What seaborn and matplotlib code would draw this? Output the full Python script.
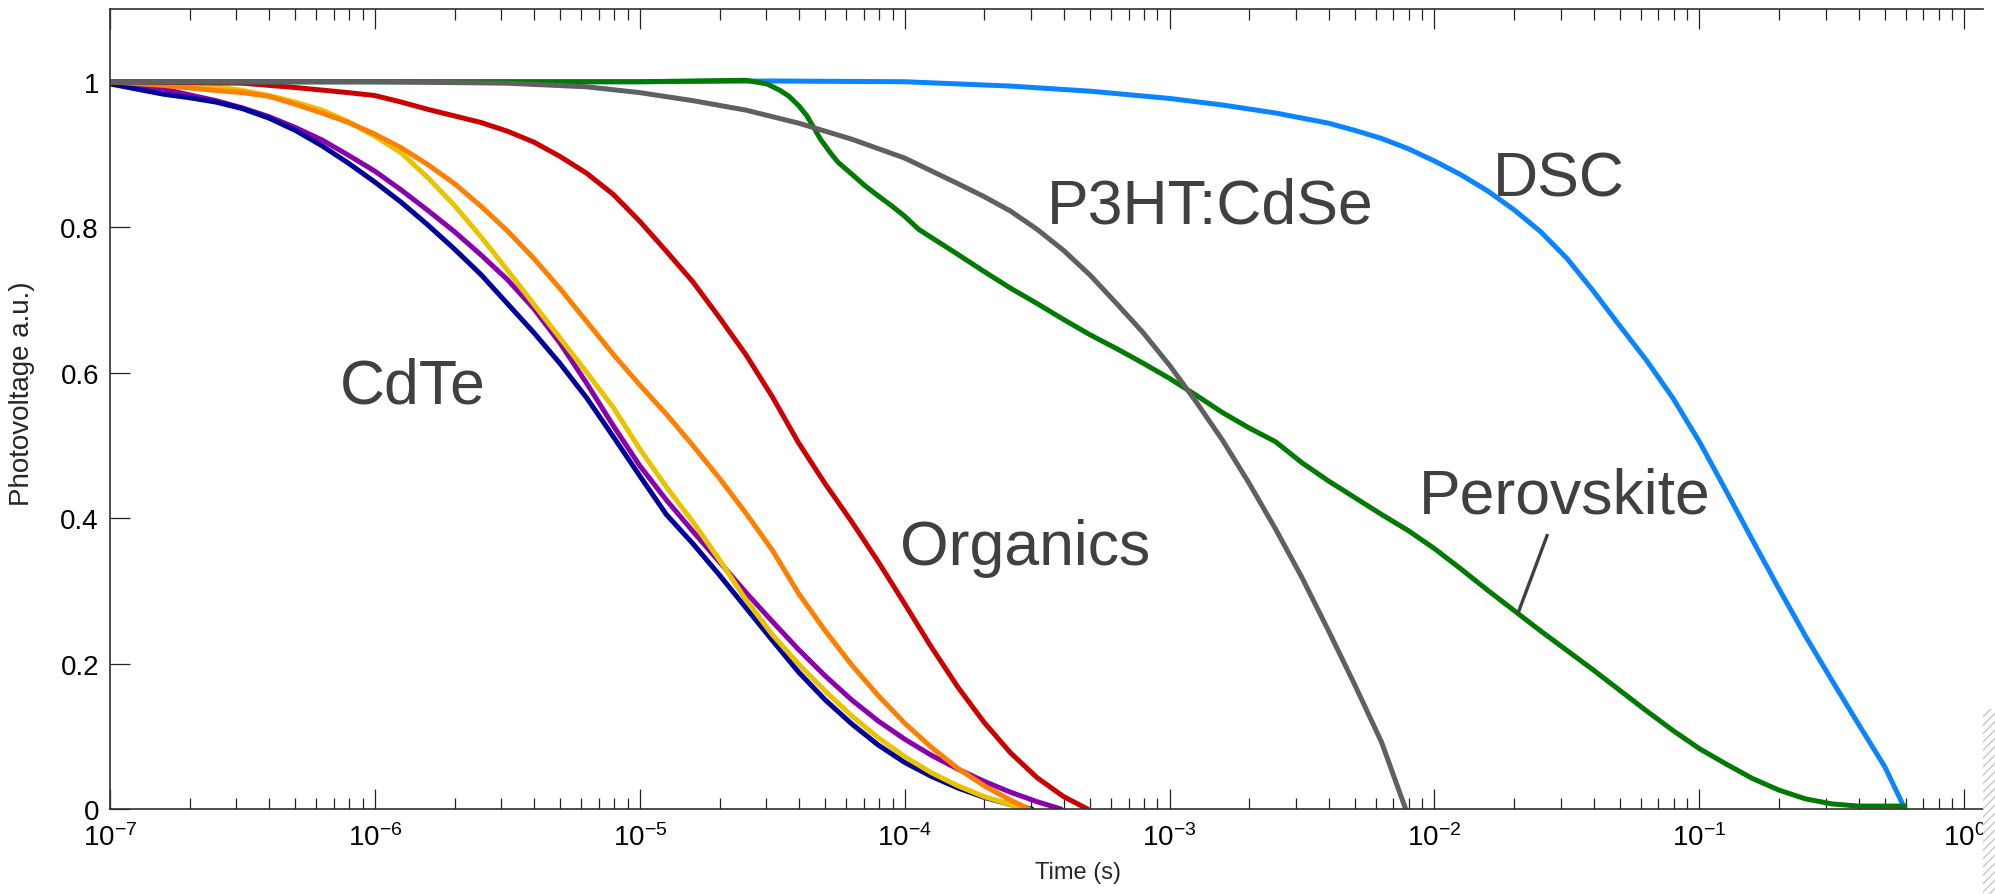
import numpy as np
import pandas as pd
import matplotlib
matplotlib.use("Agg")
import matplotlib.pyplot as plt
import matplotlib.ticker as mticker
from matplotlib.patches import Rectangle
import seaborn as sns

# ---- transient photovoltage decays: log10(time / s) and normalised voltage ----
navy_logt = [-7.0, -6.9, -6.8, -6.7, -6.6, -6.5, -6.4, -6.3, -6.2, -6.1, -6.0, -5.9, -5.8,
             -5.7, -5.6, -5.5, -5.4, -5.3, -5.2, -5.1, -5.0, -4.9, -4.8, -4.7, -4.6, -4.5,
             -4.4, -4.3, -4.2, -4.1, -4.0, -3.9, -3.8, -3.7, -3.6, -3.52]
navy_v = [0.997, 0.99, 0.983, 0.978, 0.972, 0.963, 0.950, 0.933, 0.912, 0.888, 0.862, 0.834,
          0.803, 0.770, 0.735, 0.695, 0.655, 0.612, 0.565, 0.512, 0.458, 0.405, 0.365, 0.322,
          0.277, 0.232, 0.188, 0.150, 0.117, 0.088, 0.064, 0.045, 0.029, 0.016, 0.006, 0.0]

purple_logt = [-7.0, -6.9, -6.8, -6.7, -6.6, -6.5, -6.4, -6.3, -6.2, -6.1, -6.0, -5.9, -5.8,
               -5.7, -5.6, -5.5, -5.4, -5.3, -5.2, -5.1, -5.0, -4.9, -4.8, -4.7, -4.6, -4.5,
               -4.4, -4.3, -4.2, -4.1, -4.0, -3.9, -3.8, -3.7, -3.6, -3.5, -3.41]
purple_v = [1.0, 0.995, 0.99, 0.982, 0.974, 0.964, 0.952, 0.937, 0.920, 0.899, 0.877, 0.851,
            0.823, 0.794, 0.762, 0.728, 0.688, 0.640, 0.585, 0.527, 0.472, 0.425, 0.382, 0.340,
            0.298, 0.258, 0.219, 0.183, 0.150, 0.121, 0.096, 0.074, 0.055, 0.038, 0.023, 0.010, 0.0]

yellow_logt = [-7.0, -6.8, -6.6, -6.5, -6.4, -6.3, -6.2, -6.1, -6.0, -5.9, -5.8, -5.7, -5.6,
               -5.5, -5.4, -5.3, -5.2, -5.1, -5.0, -4.9, -4.8, -4.7, -4.6, -4.5, -4.4, -4.3,
               -4.2, -4.1, -4.0, -3.9, -3.8, -3.7, -3.6, -3.55]
yellow_v = [1.0, 0.998, 0.993, 0.988, 0.981, 0.972, 0.961, 0.945, 0.925, 0.902, 0.868, 0.830,
            0.787, 0.741, 0.694, 0.647, 0.600, 0.552, 0.495, 0.443, 0.395, 0.343, 0.288, 0.240,
            0.199, 0.162, 0.128, 0.098, 0.072, 0.050, 0.032, 0.017, 0.006, 0.0]

orange_logt = [-7.0, -6.8, -6.6, -6.5, -6.4, -6.3, -6.2, -6.1, -6.0, -5.9, -5.8, -5.7, -5.6,
               -5.5, -5.4, -5.3, -5.2, -5.1, -5.0, -4.9, -4.8, -4.7, -4.6, -4.5, -4.4, -4.3,
               -4.2, -4.1, -4.0, -3.9, -3.8, -3.7, -3.6, -3.53]
orange_v = [1.0, 0.995, 0.988, 0.985, 0.980, 0.969, 0.957, 0.944, 0.928, 0.909, 0.886, 0.860,
            0.829, 0.795, 0.757, 0.715, 0.670, 0.625, 0.583, 0.543, 0.500, 0.455, 0.407, 0.356,
            0.296, 0.245, 0.198, 0.156, 0.118, 0.085, 0.056, 0.032, 0.012, 0.0]

red_logt = [-7.0, -6.5, -6.3, -6.1, -6.0, -5.9, -5.8, -5.7, -5.6, -5.5, -5.4, -5.3, -5.2,
            -5.1, -5.0, -4.9, -4.8, -4.7, -4.6, -4.5, -4.4, -4.3, -4.2, -4.1, -4.0, -3.9,
            -3.8, -3.7, -3.6, -3.5, -3.4, -3.31]
red_v = [1.0, 0.998, 0.992, 0.985, 0.981, 0.972, 0.962, 0.953, 0.944, 0.932, 0.917, 0.897,
         0.874, 0.845, 0.808, 0.767, 0.725, 0.676, 0.625, 0.567, 0.503, 0.447, 0.395, 0.340,
         0.282, 0.223, 0.168, 0.119, 0.077, 0.043, 0.017, 0.0]

gray_logt = [-7.0, -6.0, -5.5, -5.2, -5.0, -4.8, -4.6, -4.4, -4.2, -4.0, -3.8, -3.7, -3.6,
             -3.5, -3.4, -3.3, -3.2, -3.1, -3.0, -2.9, -2.8, -2.7, -2.6, -2.5, -2.4, -2.3,
             -2.2, -2.109]
gray_v = [1.0, 1.0, 0.998, 0.993, 0.985, 0.974, 0.961, 0.943, 0.921, 0.895, 0.860, 0.842,
          0.822, 0.797, 0.768, 0.734, 0.695, 0.655, 0.610, 0.560, 0.507, 0.448, 0.385, 0.318,
          0.245, 0.170, 0.092, 0.0]

green_logt = [-7.0, -5.0, -4.8, -4.6, -4.52, -4.47, -4.437, -4.40, -4.369, -4.318, -4.28,
              -4.251, -4.2, -4.15, -4.1, -4.048, -4.0, -3.947, -3.9, -3.814, -3.7, -3.6, -3.5,
              -3.4, -3.3, -3.2, -3.1, -3.0, -2.9, -2.8, -2.7, -2.6, -2.5, -2.4, -2.3, -2.2,
              -2.1, -2.0, -1.9, -1.8, -1.7, -1.6, -1.5, -1.4, -1.3, -1.2, -1.1, -1.0, -0.9,
              -0.8, -0.7, -0.6, -0.5, -0.4, -0.224]
green_v = [1.0, 1.0, 1.001, 1.002, 0.997, 0.988, 0.98, 0.967, 0.953, 0.921, 0.902,
           0.889, 0.873, 0.857, 0.843, 0.829, 0.815, 0.797, 0.786, 0.766, 0.739, 0.716, 0.695,
           0.673, 0.652, 0.633, 0.613, 0.592, 0.569, 0.545, 0.524, 0.505, 0.476, 0.451, 0.428,
           0.405, 0.383, 0.358, 0.330, 0.301, 0.273, 0.245, 0.218, 0.191, 0.163, 0.135, 0.108,
           0.083, 0.062, 0.042, 0.026, 0.014, 0.007, 0.004, 0.004]

blue_logt = [-7.0, -5.0, -4.5, -4.0, -3.6, -3.3, -3.0, -2.8, -2.6, -2.4, -2.3, -2.2, -2.1,
             -2.0, -1.9, -1.8, -1.7, -1.6, -1.5, -1.4, -1.3, -1.2, -1.1, -1.0, -0.9, -0.8,
             -0.7, -0.6, -0.5, -0.4, -0.3, -0.224]
blue_v = [1.0, 1.0, 1.001, 1.0, 0.994, 0.987, 0.977, 0.968, 0.957, 0.943, 0.933, 0.922, 0.908,
          0.891, 0.872, 0.850, 0.824, 0.794, 0.757, 0.712, 0.664, 0.617, 0.565, 0.505, 0.438,
          0.370, 0.303, 0.238, 0.177, 0.117, 0.058, 0.0]

series_colors = {
    "purple": "#8a00ad",
    "navy": "#00009a",
    "yellow": "#e8c400",
    "orange": "#ff8000",
    "red": "#cc0000",
    "blue": "#0a84ff",
    "green": "#007a00",
    "gray": "#606060",
}
draw_order = ["purple", "navy", "yellow", "orange", "red", "blue", "green", "gray"]

xtick_values = [1e-7, 1e-6, 1e-5, 1e-4, 1e-3, 1e-2, 1e-1, 1e0]
xtick_labels = [r"$\mathregular{10^{-7}}$", r"$\mathregular{10^{-6}}$", r"$\mathregular{10^{-5}}$",
                r"$\mathregular{10^{-4}}$", r"$\mathregular{10^{-3}}$", r"$\mathregular{10^{-2}}$",
                r"$\mathregular{10^{-1}}$", r"$\mathregular{10^{0}}$"]
ytick_values = [0, 0.2, 0.4, 0.6, 0.8, 1.0]
ytick_labels = ["0", "0.2", "0.4", "0.6", "0.8", "1"]

curve_labels = ["CdTe", "Organics", "P3HT:CdSe", "DSC", "Perovskite"]

# ---- long-form table for seaborn ----
raw = {
    "navy": (navy_logt, navy_v), "purple": (purple_logt, purple_v),
    "yellow": (yellow_logt, yellow_v), "orange": (orange_logt, orange_v),
    "red": (red_logt, red_v), "gray": (gray_logt, gray_v),
    "green": (green_logt, green_v), "blue": (blue_logt, blue_v),
}
frames = []
for name, (lt, v) in raw.items():
    frames.append(pd.DataFrame({"time": 10.0 ** np.asarray(lt), "photovoltage": v, "series": name}))
df = pd.concat(frames, ignore_index=True)

sns.set_style("white")
plt.rcParams["font.family"] = ["Liberation Sans", "DejaVu Sans"]
plt.rcParams["mathtext.fontset"] = "custom"
plt.rcParams["mathtext.rm"] = "Liberation Sans"
plt.rcParams["mathtext.it"] = "Liberation Sans:italic"
plt.rcParams["mathtext.bf"] = "Liberation Sans:bold"

W, H = 1995, 895
fig = plt.figure(figsize=(W / 100, H / 100), dpi=100)
ax = fig.add_axes([110 / W, (H - 810) / H, (1983 - 110) / W, 800 / H])

sns.lineplot(data=df, x="time", y="photovoltage", hue="series", hue_order=draw_order,
             palette=series_colors, estimator=None, sort=False, legend=False,
             linewidth=3.6, ax=ax)

ax.set_xscale("log")
ax.set_xlim(1e-7, 10 ** 0.0706)
ax.set_ylim(0, 1.1)

ax.set_xticks(xtick_values)
ax.set_xticklabels(xtick_labels)
ax.xaxis.set_minor_locator(mticker.LogLocator(base=10, subs=np.arange(2, 10), numticks=100))
ax.xaxis.set_minor_formatter(mticker.NullFormatter())
ax.set_yticks(ytick_values)
ax.set_yticklabels(ytick_labels)

ax.tick_params(axis="both", which="both", direction="in", colors="#222222", width=0.9,
               labelsize=20, labelcolor="black")
ax.tick_params(axis="x", which="both", top=True, bottom=True, pad=10)
ax.tick_params(axis="y", which="both", left=True, right=False, pad=8)
ax.tick_params(which="major", length=14.5)
ax.tick_params(which="minor", length=8)

for side in ["left", "bottom", "top"]:
    ax.spines[side].set_visible(True)
    ax.spines[side].set_color("#303030")
    ax.spines[side].set_linewidth(1.2)
ax.spines["right"].set_visible(False)

ax.set_xlabel("Time (s)", fontsize=17)
ax.xaxis.set_label_coords(0.517, -0.065)
ax.set_ylabel("Photovoltage a.u.)", fontsize=20)
ax.yaxis.label.set_verticalalignment("center")
ax.yaxis.set_label_coords(-0.047, 0.52)

# ---- curve annotations ----
txt_color = "#404040"
txt_kw = dict(fontsize=45, color=txt_color, ha="center", va="baseline")
ax.text(10 ** -5.856, 0.559, curve_labels[0], **txt_kw)
ax.text(10 ** -3.546, 0.337, curve_labels[1], **txt_kw)
ax.text(10 ** -2.847, 0.807, curve_labels[2], **txt_kw)
ax.text(10 ** -1.530, 0.843, curve_labels[3], **txt_kw)
ax.text(10 ** -1.507, 0.408, curve_labels[4], **txt_kw)
ax.plot([10 ** -1.573, 10 ** -1.686], [0.378, 0.268], color=txt_color, lw=2.4,
        solid_capstyle="butt", zorder=5)

# hatched strip along the lower right border
fig.patches.append(Rectangle((1983 / W, 0), 12 / W, 185 / H, transform=fig.transFigure,
                             facecolor="white", edgecolor="#c8c8c8", hatch="////",
                             linewidth=0, zorder=10))

fig.savefig("out.png", dpi=100, facecolor="white")
